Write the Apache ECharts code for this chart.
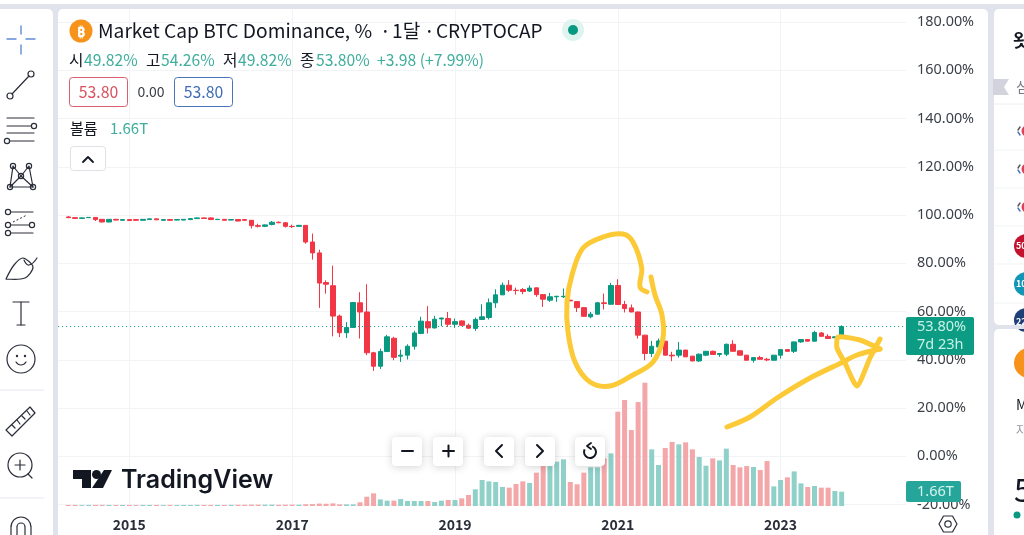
<!DOCTYPE html>
<html>
<head>
<meta charset="utf-8">
<title>Market Cap BTC Dominance</title>
<script src="https://cdn.jsdelivr.net/npm/echarts@6/dist/echarts.min.js"></script>
<style>
  html, body { margin: 0; padding: 0; background: #e0e3eb; }
  #chart { width: 1024px; height: 535px; }
</style>
</head>
<body>
<div id="chart"></div>
<script>
// monthly candles, Apr 2014 .. Oct 2023 (one empty month in front, nine behind)
const opens = [99.2,98.9,98.6,98.9,99.0,98.2,97.1,98.2,97.8,98.1,98.1,97.8,98.1,98.4,97.8,98.1,97.9,97.9,98.1,98.5,98.8,98.8,98.1,98.2,97.9,98.1,98.1,97.8,95.6,95.3,96.1,97.0,96.8,95.3,95.3,95.7,88.8,84.3,72.0,70.7,58.1,51.2,53.4,63.6,59.8,42.9,37.3,43.4,48.9,41.5,41.9,45.6,50.9,55.8,53.2,56.9,57.1,54.7,56.1,54.3,53.0,56.7,57.5,63.6,66.9,70.9,68.8,69.1,68.5,69.8,67.0,64.7,66.1,66.1,64.7,64.1,61.6,57.8,58.9,63.6,63.0,70.8,62.9,61.5,59.8,50.2,42.6,45.3,47.7,41.9,41.9,44.0,41.5,39.5,41.9,43.5,42.2,42.3,46.4,43.7,41.9,39.8,40.9,40.2,39.8,41.9,44.2,43.5,47.4,48.4,47.7,51.1,49.7,49.1,49.82]
const closes = [98.9,98.6,98.8,99.0,98.1,97.1,98.2,97.9,98.1,97.7,97.8,98.2,98.4,98.0,98.1,97.8,98.1,98.2,98.5,98.8,98.6,98.1,98.2,97.8,98.1,97.5,97.8,95.6,95.3,95.9,97.0,96.8,95.3,95.2,95.7,88.8,84.3,71.8,71.3,58.1,51.2,53.4,63.7,59.8,42.9,37.3,43.4,49.5,41.0,41.9,45.6,51.1,56.0,53.2,56.8,57.3,54.7,55.8,54.3,53.1,56.7,57.8,63.6,66.9,70.9,68.8,68.7,68.3,69.7,67.0,65.1,66.1,66.3,66.3,64.4,61.6,58.0,58.9,63.6,63.3,70.8,62.9,61.2,59.8,50.2,42.6,45.6,47.8,41.9,41.6,44.0,41.2,39.5,42.3,43.5,42.2,42.6,46.4,43.5,41.9,39.8,40.9,40.2,39.9,41.9,44.2,43.5,47.4,48.4,47.7,51.3,49.7,48.8,49.5,53.80]
const highs = [99.5,99.0,98.9,99.1,99.1,98.2,98.2,98.4,98.1,98.2,98.2,98.3,98.5,98.5,98.1,98.2,98.1,98.3,98.6,99.0,98.9,99.0,98.4,98.3,98.2,98.1,98.1,97.9,96.4,96.1,97.5,97.3,96.9,96.0,95.9,95.8,92.3,85.6,72.9,79.0,58.7,55.6,63.9,68.0,71.3,43.3,44.6,50.3,49.5,44.2,46.4,52.0,57.8,62.2,58.2,57.4,59.8,57.1,56.3,55.0,57.5,63.0,65.4,69.2,72.0,73.0,69.9,69.7,70.8,70.0,67.1,67.7,66.5,69.5,64.8,64.2,61.7,59.8,64.0,67.4,71.9,73.4,64.4,62.9,59.9,50.3,47.8,48.8,47.8,43.3,47.4,44.1,41.6,42.6,43.6,43.8,42.7,46.7,48.1,43.9,42.0,41.0,41.6,40.8,42.0,44.3,44.4,47.5,48.5,48.5,52.0,51.5,50.6,49.6,54.26]
const lows = [98.8,98.4,98.5,98.8,97.5,97.0,97.0,97.7,97.7,97.6,97.6,97.7,98.0,97.9,97.7,97.7,97.8,97.8,98.0,98.4,98.5,97.9,98.0,97.7,97.8,97.4,97.6,94.4,94.8,95.0,95.7,96.6,94.8,94.6,95.1,88.1,81.5,61.5,67.4,49.7,49.4,49.0,53.2,48.8,41.9,35.4,36.2,43.3,39.8,39.1,40.1,44.2,50.6,50.9,52.9,53.9,53.6,53.2,53.9,52.8,52.0,56.6,56.7,61.5,66.8,68.1,67.0,67.2,68.1,66.1,61.9,64.0,64.0,65.6,64.3,59.8,57.9,57.2,58.7,60.8,62.9,62.7,59.6,59.7,48.8,39.8,41.2,44.2,41.8,39.4,40.9,41.1,39.4,39.1,41.5,42.0,41.2,41.5,43.4,41.8,39.6,38.8,40.1,39.4,39.7,40.5,43.4,42.8,47.0,47.6,47.6,49.6,48.7,49.0,49.82]
// volume in trillions
const volumes = [0.12,0.12,0.11,0.12,0.13,0.13,0.12,0.11,0.12,0.12,0.11,0.12,0.12,0.12,0.11,0.12,0.11,0.12,0.12,0.13,0.12,0.12,0.12,0.12,0.13,0.14,0.14,0.16,0.15,0.15,0.16,0.14,0.15,0.16,0.15,0.2,0.22,0.28,0.26,0.3,0.19,0.19,0.19,0.43,1.08,1.47,0.77,0.62,0.62,0.81,0.58,0.58,0.58,0.58,0.46,0.62,0.7,0.7,0.89,1.28,1.94,3.02,2.86,2.79,2.21,2.13,2.55,2.86,2.67,3.87,4.64,4.64,5.15,5.42,2.79,2.52,3.87,4.49,4.49,5.53,6.11,10.95,12.31,8.82,12.07,14.32,6.58,4.76,6.73,7.43,7.16,7.39,6.58,5.69,4.68,5.53,5.3,6.66,4.76,4.49,4.64,4.53,4.18,5.22,2.28,3.02,3.33,4.02,2.63,2.21,2.32,2.13,2.13,1.74,1.66]
const tickYears = ['2015', '2017', '2019', '2021', '2023']
const priceTicks = { min: -20, max: 180, step: 20 }

const UP = '#089981'
const DOWN = '#f23645'
const UP_VOL = '#8fd1c9'
const DOWN_VOL = '#f4a7a8'
const GRID = '#f1f3f7'
const INK = '#131722'
const ICON = '#2a2e39'
const YELLOW = '#fcc937'
const FONT = '"Noto Sans CJK KR", "Noto Sans", sans-serif'
const TEXT_GREEN = '#3fae9c'

// category months: one spare in front, then the candles, then empty months to the price scale
const categories = []
for (let i = 0; i < 125; i++) {
  const m = i + 2 // March 2014 is the first slot
  categories.push((2014 + Math.floor(m / 12)) + '-' + String(m % 12 + 1).padStart(2, '0'))
}
const isYearTick = (i, value) => value.endsWith('-01') && tickYears.includes(value.slice(0, 4))

const candleData = opens.map((o, i) => [o, closes[i], lows[i], highs[i]])
const candleSeries = [null].concat(candleData).map(d => d || '-')
const volumeSeries = [null].concat(volumes.map((v, i) => ({
  value: v,
  itemStyle: { color: closes[i] >= opens[i] ? UP_VOL : DOWN_VOL }
}))).map(d => d || '-')

// small helpers for the page furniture around the chart
function txt(text, x, y, fill, size, opts) {
  const o = opts || {}
  return { type: 'text', z: o.z || 110, style: {
    text, x, y, fill, font: `${o.weight || 'normal'} ${size}px ${o.family || FONT}`,
    textVerticalAlign: 'middle', textAlign: o.align || 'left' } }
}
function ln(x1, y1, x2, y2, stroke, width, z) {
  return { type: 'line', z: z || 110, shape: { x1, y1, x2, y2 },
    style: { stroke: stroke || ICON, lineWidth: width || 1.2, lineCap: 'round' } }
}
function ring(cx, cy, r, stroke, width) {
  return { type: 'circle', z: 110, shape: { cx, cy, r },
    style: { fill: 'none', stroke: stroke || ICON, lineWidth: width || 1.2 } }
}
function dot(cx, cy, r, fill, z) {
  return { type: 'circle', z: z || 110, shape: { cx, cy, r }, style: { fill } }
}
function box(x, y, width, height, r, fill, stroke, z, extra) {
  return { type: 'rect', z: z || 110, shape: { x, y, width, height, r },
    style: Object.assign({ fill, stroke: stroke || 'none', lineWidth: 1 }, extra || {}) }
}
function poly(points, stroke, width, smooth, z) {
  return { type: 'polyline', z: z || 110, shape: { points, smooth: smooth || 0 },
    style: { fill: 'none', stroke, lineWidth: width, lineCap: 'round', lineJoin: 'round' } }
}
function shape(points, fill, z) {
  return { type: 'polygon', z: z || 110, shape: { points }, style: { fill } }
}
function arc(cx, cy, r, startAngle, endAngle, stroke, width, z) {
  return { type: 'arc', z: z || 110, shape: { cx, cy, r, startAngle, endAngle, clockwise: true },
    style: { fill: 'none', stroke, lineWidth: width } }
}

const panels = [
  box(0, 0, 1024, 4, 0, '#ffffff', null, -10),
  box(-6, 9, 59, 540, 5, '#ffffff', null, -10),
  box(58, 9, 930, 540, 5, '#ffffff', null, -10),
  box(994, 9, 60, 316, 5, '#ffffff', null, -10),
  box(994, 329, 60, 220, 5, '#ffffff', null, -10)
]

const toolbar = [
  ln(7, 39, 16, 39, '#5f8bd8', 1.4), ln(26, 39, 35, 39, '#5f8bd8', 1.4),
  ln(21, 26, 21, 34, '#5f8bd8', 1.4), ln(21, 45, 21, 54, '#5f8bd8', 1.4),
  ln(12, 94, 29, 76), ring(10, 96, 3), ring(31, 74, 3),
  ln(7, 118, 34, 118), ln(7, 126, 31, 126), ring(34, 126, 2.6), ln(7, 133, 34, 133), ln(10, 141, 34, 141), ring(7, 141, 2.6),
  poly([[13, 166], [10, 187], [21, 176], [33, 187], [29, 166], [21, 176], [13, 166]], ICON, 1.2),
  ln(10, 187, 33, 187), ring(13, 166, 2.6), ring(29, 166, 2.6), ring(10, 187, 2.6), ring(33, 187, 2.6), ring(21, 176, 2.6),
  ln(11, 212, 33, 212), ln(11, 225, 29, 225), ln(11, 233, 33, 233), ring(8, 212, 2.6), ring(8, 225, 2.6), ring(32, 225, 2.6), ring(8, 233, 2.6),
  { type: 'line', z: 110, shape: { x1: 13, y1: 222, x2: 27, y2: 215 }, style: { stroke: ICON, lineWidth: 1, lineDash: [2, 2] } },
  poly([[6, 279], [25, 278], [33, 267], [23, 258], [14, 265], [6, 279]], ICON, 1.2, 0.3),
  poly([[24, 260], [29, 265], [37, 258]], ICON, 1.2, 0.5),
  ln(13, 302, 29, 302), ln(21, 302, 21, 325), ln(17, 325, 25, 325),
  ring(21, 359, 14), dot(17, 356, 1.2, ICON), dot(25, 356, 1.2, ICON),
  poly([[16, 362], [21, 365], [26, 362]], ICON, 1.2, 0.6),
  ln(0, 390, 44, 390, '#e6e8ee', 1),
  poly([[6, 430], [30, 407], [35, 413], [12, 436], [6, 430]], ICON, 1.2),
  ln(12, 425, 15, 428), ln(17, 420, 20, 424), ln(22, 416, 25, 419), ln(27, 411, 30, 415),
  ring(20, 465, 12), ln(28, 474, 32, 478), ln(15, 465, 25, 465), ln(20, 460, 20, 470),
  ln(0, 498, 44, 498, '#e6e8ee', 1),
  arc(21, 527, 10, Math.PI, 0, ICON, 1.2), ln(11, 527, 11, 540), ln(31, 527, 31, 540),
  arc(21, 527, 4, Math.PI, 0, ICON, 1.2), ln(17, 527, 17, 540), ln(25, 527, 25, 540)
]

const legend = [
  dot(81, 31, 11.5, '#f7931a'),
  txt('₿', 81, 31, '#ffffff', 15, { align: 'center', weight: 'bold' }),
  txt('Market Cap BTC Dominance, %', 98, 31, INK, 19.2),
  txt('·', 380, 31, INK, 19.2), txt('1달', 392, 31, INK, 19.2),
  txt('·', 424, 31, INK, 19.2), txt('CRYPTOCAP', 436, 31, INK, 19),
  dot(573, 30, 11, '#dff3ef'), dot(573, 30, 5, UP),
  txt('시', 69, 60, INK, 15.7), txt('49.82%', 84, 60, TEXT_GREEN, 15.7),
  txt('고', 146, 60, INK, 15.7), txt('54.26%', 161, 60, TEXT_GREEN, 15.7),
  txt('저', 223, 60, INK, 15.7), txt('49.82%', 238, 60, TEXT_GREEN, 15.7),
  txt('종', 300, 60, INK, 15.7), txt('53.80%', 316, 60, TEXT_GREEN, 15.7),
  txt('+3.98 (+7.99%)', 377, 60, TEXT_GREEN, 15.7),
  box(69.5, 77.5, 58, 29, 3, '#ffffff', '#d9606c'),
  txt('53.80', 98.5, 92, '#d9505e', 15.8, { align: 'center' }),
  txt('0.00', 151, 92, '#3a3e48', 14, { align: 'center' }),
  box(174.5, 77.5, 58, 29, 3, '#ffffff', '#4a74b8'),
  txt('53.80', 203.5, 92, '#3f6cb5', 15.8, { align: 'center' }),
  txt('볼륨', 70, 128, INK, 15), txt('1.66T', 110, 128, TEXT_GREEN, 15),
  box(70.5, 146.5, 35, 24, 3, '#ffffff', '#dfe1e6'),
  poly([[83, 162], [88, 157], [93, 162]], INK, 1.8)
]

const logo = [
  shape([[73, 470], [91, 470], [91, 488], [82, 488], [82, 479], [73, 479]], INK),
  dot(96.5, 474.5, 4.5, INK),
  shape([[104, 470], [112, 470], [103, 488], [92, 488]], INK),
  txt('TradingView', 121, 480, INK, 25, { weight: 600, family: 'Inter, "Noto Sans", sans-serif' })
]

const buttonShadow = { shadowBlur: 8, shadowColor: 'rgba(0,0,0,0.18)', shadowOffsetY: 1 }
const buttons = [407, 448, 499, 540, 590].map(cx =>
  box(cx - 15, 437, 30, 29, 4, '#ffffff', null, 115, buttonShadow))
const buttonIcons = [
  ln(402, 451, 413, 451, INK, 2, 116),
  ln(443, 451, 454, 451, INK, 2, 116), ln(448.5, 445.5, 448.5, 456.5, INK, 2, 116),
  poly([[502, 445], [496, 451], [502, 457]], INK, 2, 0, 116),
  poly([[537, 445], [543, 451], [537, 457]], INK, 2, 0, 116),
  arc(590, 452, 6, -1.2, 3.6, INK, 2, 116),
  poly([[591, 443], [587, 446], [591, 449]], INK, 1.8, 0, 116)
]

// hand drawn marker strokes on top of the screenshot
const annotations = [
  poly([[647, 292], [640, 287], [641.7, 268], [633, 242], [623, 234], [603, 237], [583, 248], [572, 275], [567, 302], [568, 332], [575, 362], [590, 382], [610, 386], [633, 375], [653, 362], [663, 338], [662, 315], [655, 295], [651, 277]], YELLOW, 5, 0.35, 105),
  poly([[727, 427], [750, 417], [777, 398], [810, 378], [843, 362], [857, 355], [880, 349]], YELLOW, 5, 0.3, 105),
  poly([[880, 339], [870, 358], [857, 386], [845, 363], [837, 348], [838, 337], [860, 340], [880, 349]], YELLOW, 5, 0.2, 105)
]

const priceTags = [
  box(906, 317, 68, 38, 2, '#0c9c83', null, 120),
  txt('53.80%', 917, 327, '#c9f0e8', 14.5, { z: 121, family: '"Noto Sans", sans-serif' }),
  txt('7d 23h', 917, 345, '#c9f0e8', 14.5, { z: 121, family: '"Noto Sans", sans-serif' }),
  box(906, 481, 55, 21, 2, '#26a69a', null, 120),
  txt('1.66T', 917, 491.5, '#d4f3ee', 14.5, { z: 121, family: '"Noto Sans", sans-serif' }),
  poly([[939, 524], [943.5, 516], [952.5, 516], [957, 524], [952.5, 532], [943.5, 532], [939, 524]], ICON, 1.2),
  ring(948, 524, 3.2)
]

const sidePanel = [
  txt('왓', 1013, 40, INK, 18, { weight: 'bold' }),
  shape([[993, 79], [1009, 79], [1004, 87], [1009, 95], [993, 95]], '#d1d4dc'),
  txt('심', 1016, 87, '#787b86', 14),
  ln(994, 104, 1024, 104, '#eceef2', 1), ln(994, 150, 1024, 150, '#f1f3f6', 1), ln(994, 188, 1024, 188, '#f1f3f6', 1),
  ln(994, 226, 1024, 226, '#f1f3f6', 1), ln(994, 264, 1024, 264, '#f1f3f6', 1), ln(994, 303, 1024, 303, '#f1f3f6', 1),
  dot(1027, 131, 5.5, '#e0405a'), dot(1027, 169, 5.5, '#e0405a'), dot(1027, 207, 5.5, '#e0405a'),
  ln(1020, 127, 1018, 130, '#555', 1.4), ln(1020, 165, 1018, 168, '#555', 1.4), ln(1020, 203, 1018, 206, '#555', 1.4),
  ln(1020, 135, 1018, 132, '#4a74b8', 1.4), ln(1020, 173, 1018, 170, '#4a74b8', 1.4), ln(1020, 211, 1018, 208, '#4a74b8', 1.4),
  dot(1026, 246, 12, '#c4122e'), txt('50', 1016, 246, '#ffffff', 9, { weight: 'bold' }),
  dot(1026, 284, 12, '#1296b8'), txt('10', 1016, 284, '#ffffff', 9, { weight: 'bold' }),
  dot(1026, 320, 12, '#1f3f78'), txt('22', 1016, 322, '#ffffff', 9, { weight: 'bold' }),
  box(994, 325, 30, 4, 0, '#e0e3eb', null, 112),
  dot(1029, 363, 15, '#f7931a'),
  txt('M', 1016, 405, INK, 14),
  txt('자', 1016, 430, '#9598a1', 12),
  txt('5', 1014, 490, INK, 32),
  dot(1017, 515, 3.5, UP)
]

const chart = echarts.init(document.getElementById('chart'))

chart.setOption({
  animation: false,
  backgroundColor: 'transparent',
  textStyle: { fontFamily: FONT },
  grid: [
    { left: 58.12, right: 117.9, top: 22, height: 482.5 },
    { left: 58.12, right: 117.9, top: 10, height: 496 }
  ],
  xAxis: [
    { type: 'category', gridIndex: 0, data: categories, show: false },
    {
      type: 'category', gridIndex: 1, data: categories,
      axisLine: { show: false },
      axisTick: { show: false },
      axisLabel: {
        interval: isYearTick,
        formatter: value => value.slice(0, 4),
        color: '#2a2e39', fontSize: 14, fontWeight: 600, margin: 12, fontFamily: FONT
      },
      splitLine: { show: true, interval: isYearTick, alignWithLabel: true, lineStyle: { color: GRID, width: 1 } }
    }
  ],
  yAxis: [
    {
      type: 'value', gridIndex: 0, position: 'right',
      min: priceTicks.min, max: priceTicks.max, interval: priceTicks.step,
      axisLine: { show: false },
      axisTick: { show: false },
      axisLabel: {
        formatter: v => v.toFixed(2) + '%',
        color: '#3c4048', fontSize: 14.4, margin: 11, padding: [4, 0, 0, 0], fontFamily: '"Noto Sans", sans-serif'
      },
      splitLine: { lineStyle: { color: GRID, width: 1 } }
    },
    { type: 'value', gridIndex: 1, min: 0, max: 57.6, show: false }
  ],
  series: [
    {
      name: '볼륨', type: 'bar', xAxisIndex: 1, yAxisIndex: 1,
      data: volumeSeries, barWidth: 5, silent: true, z: 1
    },
    {
      name: 'BTC.D', type: 'candlestick', xAxisIndex: 0, yAxisIndex: 0,
      data: candleSeries, barWidth: 5, silent: true, z: 3,
      itemStyle: { color: UP, color0: DOWN, borderColor: UP, borderColor0: DOWN, borderWidth: 1 },
      markLine: {
        silent: true, symbol: 'none', label: { show: false }, animation: false,
        lineStyle: { color: UP, type: [1, 3], width: 1 },
        data: [{ yAxis: closes[closes.length - 1] }]
      }
    }
  ],
  graphic: { elements: [].concat(panels, toolbar, legend, logo, buttons, buttonIcons, annotations, priceTags, sidePanel) }
})

window.addEventListener('resize', () => chart.resize())
</script>
</body>
</html>
